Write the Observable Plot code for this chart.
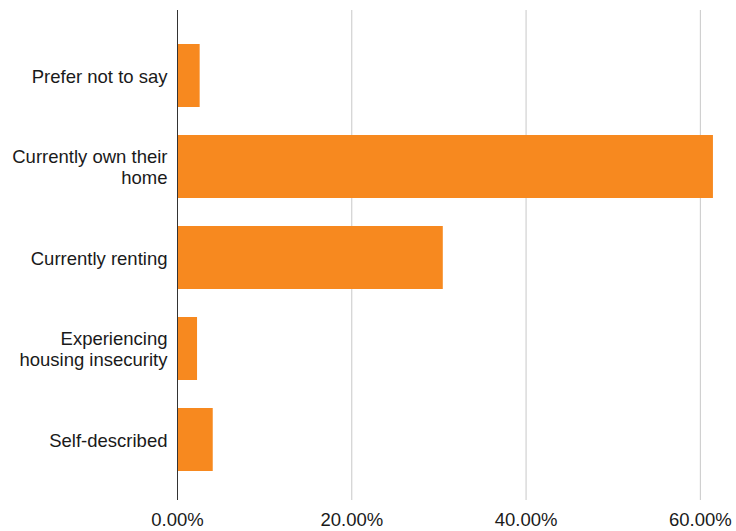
<!DOCTYPE html>
<html>
<head>
<meta charset="utf-8">
<script src="https://cdn.jsdelivr.net/npm/d3@7"></script>
<script src="https://cdn.jsdelivr.net/npm/@observablehq/plot@0.6"></script>
<style>
  html, body { margin: 0; padding: 0; background: #fff; }
  #chart { width: 736px; height: 531px; }
</style>
</head>
<body>
<div id="chart"></div>
<script>
const categories = ["Prefer not to say", "Currently own their home", "Currently renting", "Experiencing housing insecurity", "Self-described"];
const tickLabels = ["Prefer not to say", "Currently own their\nhome", "Currently renting", "Experiencing\nhousing insecurity", "Self-described"];
const values = [2.6, 61.5, 30.5, 2.3, 4.1];
const xTicks = [0, 20, 40, 60];

const data = categories.map((c, i) => ({category: c, value: values[i]}));
const labelOf = new Map(categories.map((c, i) => [c, tickLabels[i]]));

const chart = Plot.plot({
  width: 736,
  height: 531,
  marginLeft: 177,
  marginRight: 10,
  marginTop: 10,
  marginBottom: 31,
  insetTop: 5,
  insetBottom: 1,
  style: {fontFamily: "Liberation Sans, Arial, sans-serif", fontSize: "18.5px", color: "#1a1a1a", background: "#fff"},
  x: {domain: [0, 63]},
  y: {domain: categories, padding: 0.31},
  marks: [
    Plot.gridX(xTicks.filter(d => d > 0), {stroke: "#c8c8c8", strokeOpacity: 1, strokeWidth: 1}),
    Plot.barX(data, {x: "value", y: "category", fill: "#f7891f"}),
    Plot.ruleX([0], {stroke: "#333", strokeWidth: 1}),
    Plot.axisX({ticks: xTicks, tickFormat: d => d.toFixed(2) + "%", tickSize: 0, tickPadding: 12, fontSize: 18.5, fill: "#1a1a1a", label: null}),
    Plot.axisY({tickFormat: d => labelOf.get(d), tickSize: 0, tickPadding: 10, fontSize: 18.5, fill: "#1a1a1a", lineHeight: 1.15, label: null})
  ]
});
document.getElementById("chart").appendChild(chart);
</script>
</body>
</html>
